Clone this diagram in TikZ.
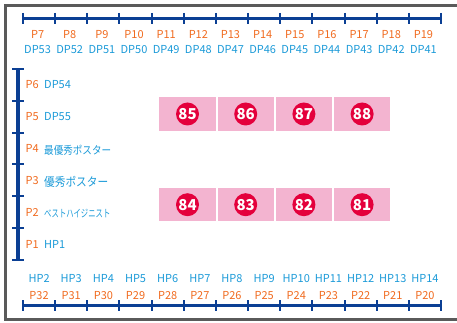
\documentclass[tikz,border=0pt]{standalone}
\usepackage{graphicx}
\usepackage{fontspec}
\setmainfont{Noto Sans CJK JP}
\definecolor{rulerblue}{HTML}{0B3F94}
\definecolor{porange}{HTML}{F06A1E}
\definecolor{dblue}{HTML}{1B9AD8}
\definecolor{boothpink}{HTML}{F3B4D0}
\definecolor{numred}{HTML}{E4003C}
\definecolor{framegray}{HTML}{5A5A5A}
\tikzset{
  ruler/.style={draw=rulerblue, line width=3.5pt},
  rtick/.style={draw=rulerblue, line width=2pt},
  frameline/.style={draw=framegray, line width=2.8pt},
  plabel/.style={text=porange, inner sep=0pt, font=\fontsize{11}{13}\selectfont},
  dlabel/.style={text=dblue, inner sep=0pt, font=\fontsize{11}{13}\selectfont},
  booth/.style={fill=boothpink, minimum width=56.3pt, minimum height=33.4pt, inner sep=0pt},
  num/.style={circle, fill=numred, text=white, minimum size=23pt, inner sep=0pt, font=\bfseries\fontsize{15}{15}\selectfont},
}
\begin{document}
\begin{tikzpicture}[x=1pt,y=-1pt]
\useasboundingbox (0,0) rectangle (457,323);
% frame
\coordinate (f1) at (457,5.3);
\coordinate (f2) at (5.3,5.3);
\coordinate (f3) at (5.3,319.6);
\coordinate (f4) at (457,319.6);
\draw[frameline] (f1) -- (f2) -- (f3) -- (f4);
% top ruler
\coordinate (tl) at (23,18.3);
\coordinate (tr) at (441,18.3);
\draw[ruler] (tl) -- (tr);
\foreach \i in {0,...,13} {
  \coordinate (ta\i) at ({23+32.154*\i},12.8);
  \coordinate (tb\i) at ({23+32.154*\i},23.8);
  \draw[rtick] (ta\i) -- (tb\i);
}
\foreach \i in {0,...,12} {
  \pgfmathtruncatemacro{\pn}{7+\i}
  \pgfmathtruncatemacro{\dn}{53-\i}
  \node[plabel] (tp\i) at ({23+32.154*(\i+0.5)-1.5},34.2) {P\pn};
  \node[dlabel] (td\i) at ({23+32.154*(\i+0.5)-1.5},49.7) {DP\dn};
}
% bottom ruler
\coordinate (bl) at (23,305.7);
\coordinate (br) at (441,305.7);
\draw[ruler] (bl) -- (br);
\foreach \i in {0,...,13} {
  \coordinate (ba\i) at ({23+32.154*\i},300.2);
  \coordinate (bb\i) at ({23+32.154*\i},311.2);
  \draw[rtick] (ba\i) -- (bb\i);
}
\foreach \i in {0,...,12} {
  \pgfmathtruncatemacro{\hn}{2+\i}
  \pgfmathtruncatemacro{\pn}{32-\i}
  \node[dlabel] (bh\i) at ({23+32.154*(\i+0.5)},278.3) {HP\hn};
  \node[plabel] (bp\i) at ({23+32.154*(\i+0.5)},295.5) {P\pn};
}
% left ruler
\coordinate (vt) at (18,69);
\coordinate (vb) at (18,260);
\draw[ruler] (vt) -- (vb);
\foreach \k in {0,...,6} {
  \coordinate (va\k) at (12.2,{69+31.833*\k});
  \coordinate (vc\k) at (23.6,{69+31.833*\k});
  \draw[rtick] (va\k) -- (vc\k);
}
\foreach \k in {0,...,5} {
  \pgfmathtruncatemacro{\pn}{6-\k}
  \node[plabel, anchor=west] (vp\k) at (25.5,{69+31.833*(\k+0.5)}) {P\pn};
}
\node[dlabel, anchor=west] (vd0) at (44,84.9) {DP54};
\node[dlabel, anchor=west] (vd1) at (44,116.7) {DP55};
\node[dlabel, anchor=west, font=\fontsize{11}{12}\selectfont] (vd2) at (44,150) {\scalebox{0.87}[1]{最優秀ポスター}};
\node[dlabel, anchor=west, font=\fontsize{12}{13}\selectfont] (vd3) at (44,181.6) {\scalebox{0.89}[1]{優秀ポスター}};
\node[dlabel, anchor=west, font=\fontsize{10.5}{12}\selectfont] (vd4) at (44,213.7) {\scalebox{0.7}[1]{ベストハイジニスト}};
\node[dlabel, anchor=west] (vd5) at (44,244) {HP1};
% booths
\foreach \n [count=\c from 0] in {85,86,87,88} {
  \node[booth] (bt\n) at ({187.5+58.2*\c},114) {};
  \node[num] (nt\n) at (bt\n.center) {\n};
}
\foreach \n [count=\c from 0] in {84,83,82,81} {
  \node[booth] (bt\n) at ({187.5+58.2*\c},204.7) {};
  \node[num] (nt\n) at (bt\n.center) {\n};
}
\end{tikzpicture}
\end{document}
